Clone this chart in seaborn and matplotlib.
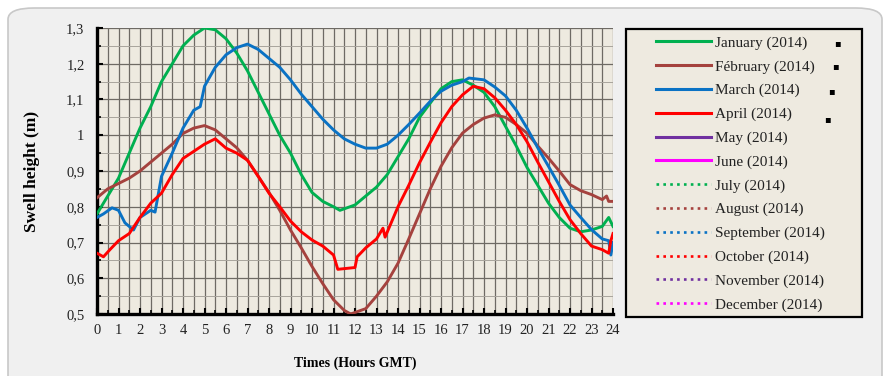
import numpy as np
import pandas as pd
import matplotlib
matplotlib.use('Agg')
import matplotlib.pyplot as plt
import seaborn as sns
from matplotlib.lines import Line2D
from matplotlib.patches import FancyBboxPatch, Rectangle
from matplotlib.ticker import MultipleLocator, FuncFormatter

# hours (GMT) and swell height (m)
jan_h = [0, 0.5, 1, 1.5, 2, 2.5, 3, 3.5, 4, 4.5, 5, 5.5, 6, 6.5, 7, 7.5, 8, 8.5, 9, 9.5, 10, 10.5, 11, 11.3, 12, 12.5, 13, 13.5, 14, 14.5, 15, 15.5, 16, 16.5, 17, 17.5, 18, 18.5, 19, 19.5, 20, 20.5, 21, 21.5, 22, 22.5, 23, 23.5, 23.8, 24]
jan_v = [0.78, 0.83, 0.88, 0.95, 1.02, 1.08, 1.15, 1.20, 1.25, 1.28, 1.30, 1.295, 1.27, 1.23, 1.18, 1.12, 1.06, 1.00, 0.95, 0.89, 0.84, 0.815, 0.80, 0.79, 0.805, 0.83, 0.855, 0.89, 0.94, 0.99, 1.05, 1.09, 1.13, 1.15, 1.155, 1.14, 1.12, 1.08, 1.025, 0.97, 0.91, 0.86, 0.81, 0.77, 0.74, 0.73, 0.735, 0.745, 0.77, 0.745]

feb_h = [0, 0.5, 1, 1.5, 2, 2.5, 3, 3.5, 4, 4.5, 5, 5.5, 6, 6.5, 7, 7.5, 8, 8.5, 9, 9.5, 10, 10.5, 11, 11.5, 11.8, 12.5, 13, 13.5, 14, 14.5, 15, 15.5, 16, 16.5, 17, 17.5, 18, 18.5, 19, 19.5, 20, 20.5, 21, 21.5, 22, 22.5, 23, 23.5, 23.7, 23.8, 24]
feb_v = [0.825, 0.85, 0.865, 0.88, 0.90, 0.925, 0.95, 0.975, 1.005, 1.02, 1.027, 1.015, 0.99, 0.965, 0.93, 0.885, 0.84, 0.79, 0.735, 0.685, 0.633, 0.585, 0.54, 0.51, 0.50, 0.515, 0.55, 0.59, 0.642, 0.71, 0.78, 0.85, 0.913, 0.965, 1.006, 1.03, 1.048, 1.057, 1.05, 1.03, 1.006, 0.97, 0.936, 0.9, 0.862, 0.845, 0.834, 0.82, 0.83, 0.815, 0.815]

mar_h = [0, 0.3, 0.7, 1, 1.3, 1.7, 2, 2.5, 2.7, 3, 3.5, 4, 4.5, 4.8, 5, 5.5, 6, 6.5, 7, 7.5, 8, 8.5, 9, 9.5, 10, 10.5, 11, 11.5, 12, 12.5, 13, 13.5, 14, 14.5, 15, 15.5, 16, 16.5, 17, 17.3, 18, 18.5, 19, 19.5, 20, 20.5, 21, 21.5, 22, 22.5, 23, 23.5, 23.8, 23.9, 24]
mar_v = [0.77, 0.78, 0.797, 0.79, 0.755, 0.735, 0.77, 0.79, 0.785, 0.885, 0.95, 1.02, 1.07, 1.08, 1.137, 1.19, 1.225, 1.245, 1.255, 1.24, 1.215, 1.19, 1.155, 1.115, 1.08, 1.045, 1.015, 0.99, 0.975, 0.964, 0.964, 0.975, 1.0, 1.03, 1.062, 1.095, 1.123, 1.14, 1.15, 1.16, 1.155, 1.135, 1.11, 1.07, 1.02, 0.965, 0.913, 0.86, 0.805, 0.77, 0.736, 0.71, 0.705, 0.665, 0.70]

apr_h = [0, 0.3, 0.6, 1, 1.5, 2, 2.5, 3, 3.5, 4, 4.5, 5, 5.5, 6, 6.5, 7, 7.5, 8, 8.5, 9, 9.5, 10, 10.5, 11, 11.2, 12, 12.1, 12.5, 13, 13.3, 13.4, 14, 14.5, 15, 15.5, 16, 16.5, 17, 17.5, 18, 18.5, 19, 19.5, 20, 20.5, 21, 21.5, 22, 22.5, 23, 23.5, 23.8, 23.9, 24]
apr_v = [0.67, 0.66, 0.68, 0.705, 0.725, 0.77, 0.81, 0.838, 0.89, 0.935, 0.955, 0.975, 0.99, 0.964, 0.95, 0.93, 0.885, 0.838, 0.8, 0.76, 0.73, 0.707, 0.69, 0.665, 0.625, 0.63, 0.66, 0.685, 0.71, 0.74, 0.715, 0.80, 0.86, 0.923, 0.98, 1.035, 1.08, 1.113, 1.137, 1.13, 1.105, 1.07, 1.03, 0.982, 0.925, 0.87, 0.815, 0.764, 0.725, 0.69, 0.68, 0.67, 0.705, 0.725]

months = ['January', 'Fébruary', 'March', 'April', 'May', 'June',
          'July', 'August', 'September', 'October', 'November', 'December']
colors = ['#00b050', '#a5423e', '#0a72c4', '#ff0000', '#7030a0', '#ff00ff'] * 2
series = {'January': (jan_h, jan_v), 'Fébruary': (feb_h, feb_v),
          'March': (mar_h, mar_v), 'April': (apr_h, apr_v)}

y_ticks = [0.5, 0.6, 0.7, 0.8, 0.9, 1.0, 1.1, 1.2, 1.3]

W, H = 883, 376
fig = plt.figure(figsize=(W / 100, H / 100), dpi=100)
fig.patch.set_facecolor('white')
panel = FancyBboxPatch((8 / W, -0.1), 874 / W, 1.1 - 8 / H,
                       boxstyle='round,pad=0,rounding_size=0.03',
                       transform=fig.transFigure, facecolor='#f0f0f0',
                       edgecolor='#c8c8c8', linewidth=1.2, zorder=-10)
fig.patches.append(panel)

# legend frame
fig.patches.append(Rectangle((626 / W, 1 - 317 / H), 236 / W, 288 / H,
                             transform=fig.transFigure, facecolor='#eeeae0',
                             edgecolor='black', linewidth=1.6, zorder=-5))

ax = fig.add_axes([97 / W, 62 / H, 516 / W, 286 / H])
ax.set_facecolor('#eeeae0')

for i, m in enumerate(months[:4]):
    h, v = series[m]
    sns.lineplot(x=h, y=v, ax=ax, color=colors[i], linewidth=2.1, zorder=3)

ax.set_xlim(0, 24)
ax.set_ylim(0.5, 1.3)
ax.xaxis.set_major_locator(MultipleLocator(1))
ax.xaxis.set_minor_locator(MultipleLocator(0.5))
ax.set_yticks(y_ticks)
ax.yaxis.set_minor_locator(MultipleLocator(0.05))
ax.yaxis.set_major_formatter(FuncFormatter(lambda v, p: ('%g' % round(v, 2)).replace('.', ',')))
ax.grid(which='major', axis='both', color='#6e6a64', linewidth=0.9, zorder=0)
ax.grid(which='minor', axis='x', color='#6e6a64', linewidth=0.9, zorder=0)
ax.grid(which='minor', axis='y', color='#a8a49c', linewidth=0.7, zorder=0)
ax.set_axisbelow(True)

for s in ['top', 'right']:
    ax.spines[s].set_visible(False)
for s in ['left', 'bottom']:
    ax.spines[s].set_linewidth(2.4)
    ax.spines[s].set_color('black')

ax.tick_params(axis='both', which='major', direction='in', length=4, width=1.5,
               labelsize=10.5, colors='black')
ax.tick_params(axis='both', which='minor', direction='in', length=3, width=1.2)
ax.tick_params(axis='y', which='major', pad=9)
ax.tick_params(axis='x', which='major', pad=7)
for lab in ax.get_xticklabels() + ax.get_yticklabels():
    lab.set_fontfamily('Liberation Serif')
    lab.set_color('#222222')

ax.set_xlabel('Times (Hours GMT)', fontfamily='Liberation Serif', fontweight='bold',
              fontsize=10, labelpad=14)
ax.set_ylabel('Swell height (m)', fontfamily='Liberation Serif', fontweight='bold',
              fontsize=12.5, labelpad=19)

handles = []
for i, m in enumerate(months):
    ls = '-' if i < 6 else (0, (1, 1.6))
    handles.append(Line2D([], [], color=colors[i], linewidth=2.2 if i < 6 else 1.9, linestyle=ls))
labels = [m + ' (2014)' for m in months]
leg = fig.legend(handles, labels, loc='upper left',
                 bbox_to_anchor=(656 / W, 1 - 36 / H),
                 bbox_transform=fig.transFigure,
                 borderaxespad=0, borderpad=0, frameon=False,
                 prop={'family': 'Liberation Serif', 'size': 11},
                 handlelength=3.6, handletextpad=0.28, labelspacing=0.65)
for t in leg.get_texts():
    t.set_color('#222222')

# little black squares next to the first four legend entries
for xs, ys in [(837, 43), (835, 66), (831, 91), (827, 119)]:
    fig.text(xs / W, 1 - ys / H, '\u25aa', fontsize=7, color='black',
             ha='center', va='center', family='DejaVu Sans')

fig.savefig('out.png', dpi=100)
